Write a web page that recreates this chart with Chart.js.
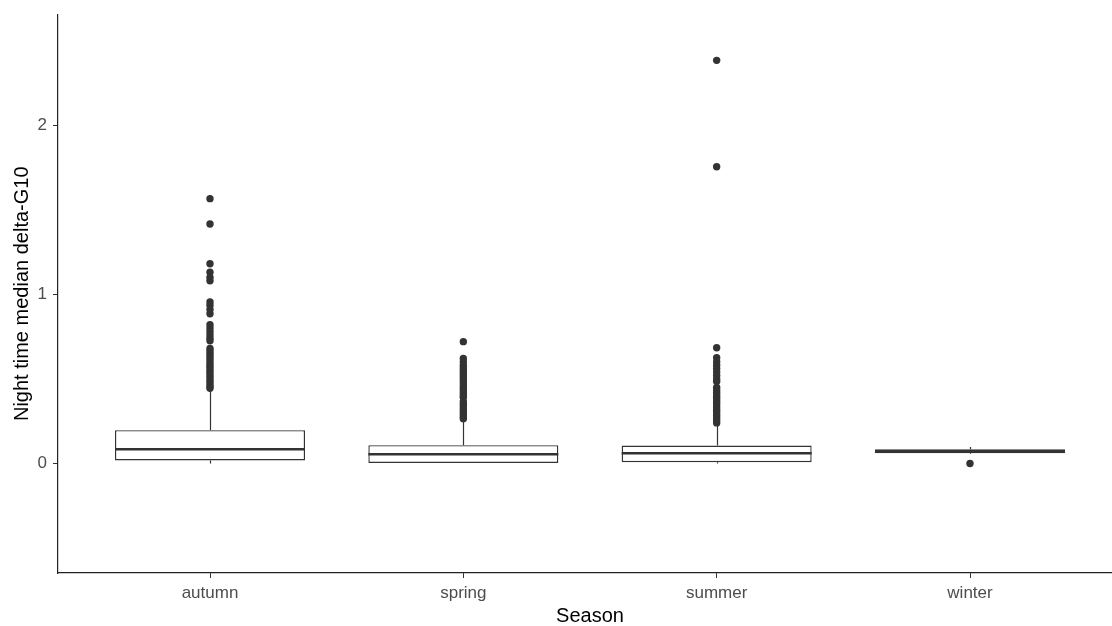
<!DOCTYPE html>
<html>
<head>
<meta charset="utf-8">
<script src="https://cdn.jsdelivr.net/npm/chart.js@4"></script>
<style>
html,body{margin:0;padding:0;background:#fff;overflow:hidden;}
#box{width:1126px;height:626px;}
</style>
</head>
<body>
<div id="box"><canvas id="seasonChart" width="1126" height="626"></canvas></div>
<script>
/* -------- DATA -------- */

const seasons = ["autumn","spring","summer","winter"];
const yTicks = [0,1,2];

const whiskerLow  = [0.000, 0.000, 0.000, 0.056];
const q1          = [0.018, 0.000, 0.008, 0.060];
const median      = [0.084, 0.055, 0.061, 0.072];
const q3          = [0.197, 0.108, 0.106, 0.084];
const whiskerHigh = [0.430, 0.260, 0.235, 0.097];

const outAutumn = [1.565,1.415,1.180,1.130,1.100,1.080,0.955,0.935,0.910,0.885,
0.820,0.800,0.780,0.760,0.740,0.725,0.680,0.665,0.650,0.635,0.620,0.605,0.590,
0.575,0.560,0.545,0.530,0.515,0.500,0.485,0.470,0.455,0.445];
const outSpring = [0.720,0.620,0.600,0.580,0.565,0.550,0.535,0.520,0.505,0.490,
0.475,0.460,0.445,0.430,0.415,0.400,0.390,0.365,0.350,0.335,0.320,0.305,0.290,
0.275,0.265];
const outSummer = [2.382,1.753,0.684,0.625,0.600,0.580,0.560,0.540,0.520,0.500,
0.485,0.450,0.435,0.420,0.405,0.390,0.375,0.360,0.345,0.330,0.315,0.300,0.285,
0.270,0.255,0.240];
const outWinter = [0.000];

const outliers = [outAutumn,outSpring,outSummer,outWinter];

/* -------- BOX PARTS (whiskers + median) -------- */

const ink = "#333333";

const boxParts = {
id:"boxParts",
beforeDatasetsDraw(chart){
const c = chart.ctx, xs = chart.scales.x, ys = chart.scales.y;
c.save();
c.strokeStyle = ink;
c.lineWidth = 1.2;
seasons.forEach((s,i)=>{
const x = Math.round(xs.getPixelForValue(i+1))+0.5;
c.beginPath();
c.moveTo(x,ys.getPixelForValue(whiskerLow[i]));
c.lineTo(x,ys.getPixelForValue(q1[i]));
c.moveTo(x,ys.getPixelForValue(q3[i]));
c.lineTo(x,ys.getPixelForValue(whiskerHigh[i]));
c.stroke();
});
c.restore();
},
afterDatasetsDraw(chart){
const c = chart.ctx, ys = chart.scales.y;
const bars = chart.getDatasetMeta(0).data;
c.save();
c.strokeStyle = ink;
c.lineWidth = 2.6;
bars.forEach((b,i)=>{
const y = ys.getPixelForValue(median[i]);
c.beginPath();
c.moveTo(b.x-b.width/2,y);
c.lineTo(b.x+b.width/2,y);
c.stroke();
});
c.restore();
}
};

/* -------- CHART -------- */

const tickFont = {family:"Liberation Sans, Arial, sans-serif",size:17,lineHeight:1};
const titleFont = {family:"Liberation Sans, Arial, sans-serif",size:20,lineHeight:1};

new Chart(document.getElementById("seasonChart"),{
type:"bar",
data:{
datasets:[
{
type:"bar",
data:seasons.map((s,i)=>({x:i+1,y:[q1[i],q3[i]]})),
backgroundColor:"#ffffff",
borderColor:ink,
borderWidth:1.4,
borderSkipped:false,
grouped:false,
barPercentage:0.75,
categoryPercentage:1
},
{
type:"scatter",
data:outliers.flatMap((arr,i)=>arr.map(v=>({x:i+1,y:v}))),
backgroundColor:ink,
borderWidth:0,
pointRadius:3.7
}
]
},
options:{
responsive:false,
animation:false,
layout:{padding:{top:10,right:2,left:0,bottom:0}},
plugins:{legend:{display:false},tooltip:{enabled:false}},
scales:{
x:{
type:"linear",
offset:false,
min:0.4,
max:4.6,
afterBuildTicks:axis=>{axis.ticks = seasons.map((s,i)=>({value:i+1}));},
afterFit:axis=>{axis.height = 53;},
grid:{drawOnChartArea:false,drawTicks:true,tickLength:5,color:ink,offset:false},
border:{display:true,color:"#222",width:1.2},
ticks:{color:"#4d4d4d",font:tickFont,padding:7,maxRotation:0,
callback:v=>seasons[v-1]},
title:{display:true,text:"Season",color:"#000",font:titleFont,padding:{top:0,bottom:0}}
},
y:{
min:-0.647,
max:2.653,
afterBuildTicks:axis=>{axis.ticks = yTicks.map(v=>({value:v}));},
afterFit:axis=>{axis.width = 58;},
grid:{drawOnChartArea:false,drawTicks:true,tickLength:5,color:ink},
border:{display:true,color:"#222",width:1.2},
ticks:{color:"#4d4d4d",font:tickFont,padding:6},
title:{display:true,text:"Night time median delta-G10",color:"#000",font:titleFont,padding:{top:12,bottom:0}}
}
}
},
plugins:[boxParts]
});
</script>
</body>
</html>
